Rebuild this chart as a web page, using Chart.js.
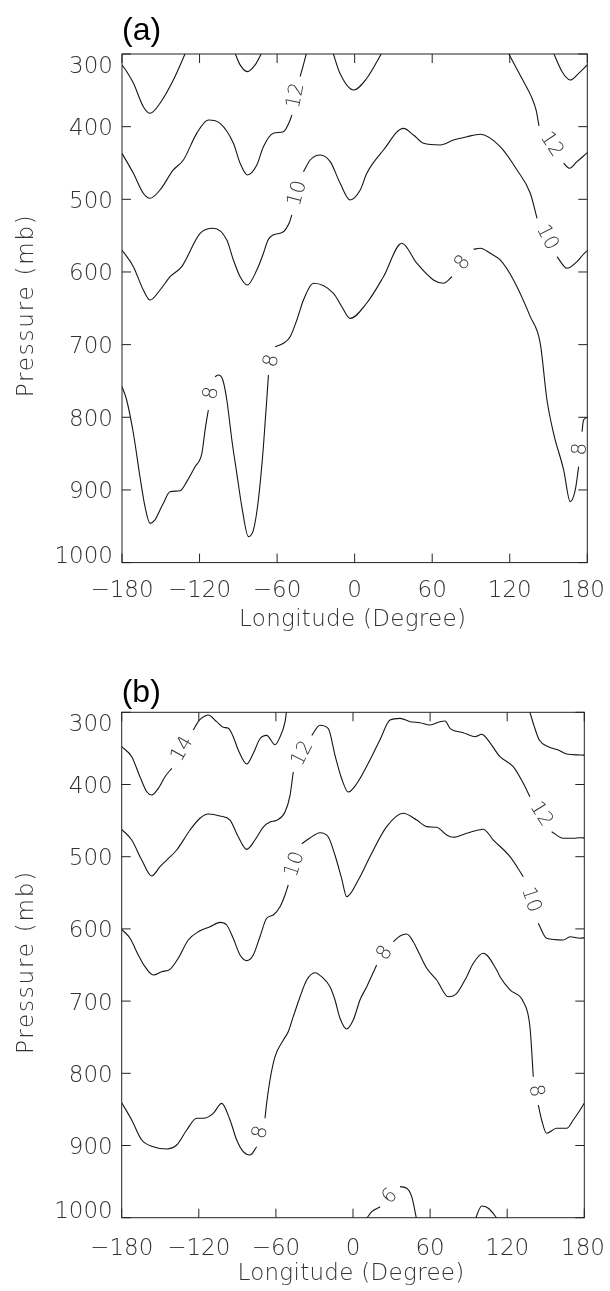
<!DOCTYPE html>
<html>
<head>
<meta charset="utf-8">
<script src="https://cdn.jsdelivr.net/npm/chart.js@4.4.1/dist/chart.umd.min.js"></script>
<style>
  html, body { margin: 0; padding: 0; background: #fff; }
  canvas { display: block; }
</style>
</head>
<body>
<canvas id="chart_a" width="610" height="645"></canvas>
<canvas id="chart_b" width="610" height="646"></canvas>
<script>
// axis ticks
const lonTicks = [-180, -120, -60, 0, 60, 120, 180];
const lonTickLabels = ['\u2212180', '\u2212120', '\u221260', '0', '60', '120', '180'];
const presTicks = [300, 400, 500, 600, 700, 800, 900, 1000];
const presTickLabels = ['300', '400', '500', '600', '700', '800', '900', '1000'];

// contours: longitude (degree) / pressure (mb); null = gap where the contour label sits
// panel (a)
const a14Lon = [-180, -176.4, -171.2, -163.5, -158.3, -150.6, -140.3, -130.5, null,
  -93, -88.6, -83, -77, -71.5, null,
  -17, -11.4, -0.9, 9.4, 21.5, null,
  153.5, 160.4, 166.8, 173.3, 180.5];
const a14Pres = [315, 324, 340, 372.5, 381.6, 367.8, 335.8, 297, null,
  297, 315, 324.3, 315, 297, null,
  297, 326.6, 349.5, 333.4, 297, null,
  297, 324, 335.8, 326.6, 314];

const a12LeftLon = [-180, -171.2, -163.5, -158.3, -150.6, -140.3, -132.5, -122.2, -113.2, -104.1, -93.8, -88.6, -83, -75.7, -70.6, -62.9, -55.1, -49.9, -48.6, null,
  -42.2, -39.8, -37];
const a12LeftPres = [436.7, 464.2, 491.7, 498.6, 487.2, 459.6, 445.9, 409.2, 390.8, 395.4, 422.9, 450.4, 466.5, 452.8, 427.6, 409, 406.9, 390.8, 384, null,
  331, 316, 297];

const a12RightLon = [118.5, 123.1, 130.7, 136.5, 140.5, 142.6, null, 161.7, 166.3, 172, 177.1, 180.5];
const a12RightPres = [297, 312.8, 338, 358, 378, 399, null, 450.4, 457.3, 448.2, 440.4, 435];

const a10Lon = [-180, -171.2, -163.5, -158.3, -150.6, -142.8, -133.8, -119.6, -109.3, -98.9, -93.8, -88.6, -83, -75.7, -70.6, -67, -62.9, -55.1, -50.5, -48.6, null,
  -39.6, -34.4, -26.7, -18.9, -11.2, -3.5, 4.3, 9.4, 22.3, 37.8, 45.5, 53.3, 66.2, 76.5, 86.9, 97.2, 112.6, 125.6, 135.9, 141.1, null,
  156.5, 164.3, 172, 177.1, 180.5];
const a10Pres = [569.7, 592.7, 624.8, 638.6, 624.8, 606.5, 592.7, 546.8, 539.9, 556, 583.5, 606.5, 617.9, 597.3, 574.3, 556, 549, 544.6, 532, 521.6, null,
  462, 445.9, 439, 448.2, 478, 500.9, 487.2, 464.2, 432.1, 402.3, 411.5, 422.9, 425.2, 418.4, 413.8, 410.5, 427.6, 459.6, 491.7, 526.1, null,
  579, 594.9, 585.8, 575.3, 570];

const a8Lon = [-180, -176.4, -171.2, -166.1, -162.2, -158.3, -154.5, -150.6, -148, -142.9, -135.1, -129.9, -123.5, -118.3, -115.5, -113.2, null,
  -108, -105.4, -102, -98.9, -95, -91.2, -87.3, -82.2, -78.3, -74.5, -70.6, -66.7, null,
  -61.5, -55.1, -49.9, -44.7, -39.6, -31.9, -16.4, -9.9, -3.5, 9.4, 22.3, 36.5, 48.1, 61, 68.8, 75.3, null,
  92, 97.2, 104.9, 112.6, 122.9, 135.9, 143.6, 148.8, 153.9, 161.7, 166.8, 170.7, 173.3, null,
  175.9, 177.1, 180.5];
const a8Pres = [757.9, 776.2, 822, 881.8, 923, 946, 941.3, 927.6, 918.4, 902.4, 901, 888.6, 868, 850.5, 815, 790, null,
  744.1, 741.8, 748.7, 776.2, 831.2, 877.1, 923, 964.3, 955.1, 913.8, 840.5, 741.8, null,
  702.8, 698.2, 689.1, 666.1, 638.6, 615.6, 629.3, 647.8, 663.8, 642.7, 606.5, 560.5, 588, 611, 615.6, 606.5, null,
  568.8, 567.4, 574.3, 583.5, 611, 661.5, 698.2, 776.2, 822, 872.5, 916.2, 900, 868, null,
  819.8, 803.7, 800];

// panel (b)
const b14LeftLon = [-180, -172.2, -165.8, -160.5, -156.7, -151.5, -146.3, -141.1, null,
  -124.3, -119.6, -115.2, -112.6, -106.1, -100.9, -97, -93.2, -89.3, -82.7, -77.6, -72.4, -67.2, -60.7, -56.8, -52.9, -51.6];
const b14LeftPres = [347.6, 361.5, 389.2, 410, 414.5, 405.3, 389.2, 377.6, null,
  324.5, 310.7, 305.1, 303.7, 313, 320.8, 322.2, 333.8, 352.2, 371.6, 356.8, 336.6, 331.9, 344.9, 334.2, 313.4, 297];

const b14RightLon = [137.2, 141.1, 145, 152, 159.8, 166.3, 176.7, 180.5];
const b14RightPres = [297, 319.9, 338.4, 347.6, 352.2, 357.8, 359.1, 359.5];

const b12Lon = [-180, -172.2, -164.4, -156.7, -150.2, -145, -137.2, -126.8, -119.1, -112.6, -103.5, -95.7, -89.3, -82.7, -76.3, -69.8, -64.6, -59.4, -52.9, -49, -46.5, null,
  -32.1, -25.7, -19.2, -14, -8.8, -3.7, 2.9, 13.2, 21, 28.8, 36.6, 44.4, 52.1, 59.9, 67.7, 71.6, 75.5, 85.8, 95, 100.2, 104, 114.4, 124.7, 132.5, 137.7, null,
  154.6, 163.7, 171.4, 176.7, 180.5];
const b12Pres = [462, 476.9, 504.6, 526.7, 513.9, 504.6, 490.7, 463, 446.8, 440.9, 443.6, 449.2, 472.3, 489.8, 476.9, 458.9, 451.9, 449.6, 438, 415, 382.7, null,
  331.9, 318, 322.7, 359.6, 392, 410.4, 398.9, 366, 338, 310.7, 308.4, 313, 314.4, 317.6, 313, 312, 322.2, 328.3, 333.8, 330.5, 336, 361.5, 375.3, 398.3, 416.9, null,
  465.4, 474.5, 474.5, 473.7, 474];

const b10Lon = [-180, -173.5, -167.1, -161.9, -155.4, -148.9, -142.4, -136, -128.2, -120.4, -111.3, -103.5, -98.3, -93.2, -87.9, -82.7, -77.6, -72.4, -67.2, -62, -56.8, -52.9, -50.4, null,
  -39.9, -33.5, -25.7, -19.2, -14, -8.8, -4.9, 4.1, 13.2, 26.2, 39.1, 49.6, 57.4, 65.1, 72.9, 78, 88.5, 101.4, 109.2, 122.2, 132.5, null,
  144.2, 150.7, 163.7, 168.9, 176.7, 180.5];
const b10Pres = [600.6, 613, 636.1, 652.3, 663.8, 659.3, 656, 640.7, 615.4, 603.9, 597, 590.9, 594.6, 613, 636.1, 644, 636.1, 610.8, 585.3, 580.7, 569.3, 553, 539.2, null,
  482, 474.1, 466.8, 472.7, 498, 530.5, 555.4, 532.3, 500, 458.4, 439.9, 449.2, 458.4, 459.3, 470, 473.1, 467.6, 462, 476.9, 500, 527.7, null,
  592.2, 613, 615.4, 610.8, 613, 612];

const b8Lon = [-180, -172.2, -164.4, -155.4, -145, -137.2, -129.4, -121.6, -116.5, -108.7, -102.2, -95.7, -90.5, -85.4, -80.2, -74.9, null,
  -68.5, -67.2, -64.6, -60.7, -54.2, -50.4, -46.5, -41.2, -36, -29.6, -23.1, -17.9, -14, -10.1, -4.9, 0.2, 2.9, 5.4, 10.7, 18.4, null,
  31.4, 36.6, 41.8, 46.9, 52.1, 57.4, 65.1, 74.2, 80.7, 88.5, 93.6, 101.4, 111.8, 114.4, 122.2, 132.5, 137.7, 140.3, null,
  144.2, 146.8, 150.7, 158.5, 166.3, 171.4, 176.7, 180.5];
const b8Pres = [840.7, 864.7, 892.4, 901.7, 904.8, 899.3, 878.5, 862.3, 862.3, 855.4, 841.6, 864.7, 892.4, 908.6, 913.2, 901.7, null,
  862.3, 841.6, 809.3, 777, 753.9, 742.4, 721.6, 693.9, 670.8, 660.7, 668.4, 680, 698.5, 723.8, 738.6, 726.2, 712.3, 698.5, 680, 650, null,
  617.7, 609.8, 607.1, 617.7, 636.3, 654.6, 670.8, 693.9, 689.2, 666.2, 647.6, 633.8, 656.9, 666.2, 684.6, 700.8, 735.5, 804.7, null,
  843.9, 864.7, 883.1, 876.2, 876.2, 864.7, 850.8, 840];

const b6Lon = [9.8, 14.6, 21.1, null, 36.6, 41.8, 45.7, 49.6];
const b6Pres = [1003, 991.7, 984.8, null, 957, 959.3, 970.9, 1003];

const b6EastLon = [94.9, 100.2, 105.3, 113.1];
const b6EastPres = [1003, 983.8, 987, 1003];

const thinFamily = '"DejaVu Sans ExtraLight", "DejaVu Sans Light", "DejaVu Sans"';
const tickFont = '200 23px ' + thinFamily;
const inkColor = '#333';

function splitSegments(lons, pres) {
  const segs = [[]];
  lons.forEach((lon, i) => {
    if (lon === null) {
      segs.push([]);
      return;
    }
    segs[segs.length - 1].push({x: lon, y: pres[i]});
  });
  return segs;
}

const framePlugin = {
  id: 'frame',
  afterDatasetsDraw(chart, args, opts) {
    const {ctx, chartArea: area, scales: {x, y}} = chart;
    ctx.save();

    // box + inward ticks on all four sides
    ctx.strokeStyle = '#222';
    ctx.lineWidth = 1;
    ctx.strokeRect(area.left, area.top, area.right - area.left, area.bottom - area.top);
    ctx.beginPath();
    lonTicks.forEach(v => {
      const px = x.getPixelForValue(v);
      ctx.moveTo(px, area.bottom);
      ctx.lineTo(px, area.bottom - 9);
      ctx.moveTo(px, area.top);
      ctx.lineTo(px, area.top + 9);
    });
    presTicks.forEach(v => {
      const py = y.getPixelForValue(v);
      ctx.moveTo(area.left, py);
      ctx.lineTo(area.left + 9, py);
      ctx.moveTo(area.right, py);
      ctx.lineTo(area.right - 9, py);
    });
    ctx.stroke();

    ctx.fillStyle = inkColor;
    ctx.font = tickFont;
    ctx.textBaseline = 'alphabetic';

    // pressure labels, kept inside the box at the ends
    const dh = 16.8;
    ctx.textAlign = 'right';
    presTicks.forEach((v, i) => {
      let base = y.getPixelForValue(v) + dh / 2;
      base = Math.max(base, area.top + 2 + dh);
      base = Math.min(base, area.bottom + 0.5);
      ctx.fillText(presTickLabels[i], area.left - 9, base);
    });

    // longitude labels
    ctx.textAlign = 'center';
    lonTicks.forEach((v, i) => {
      const w = ctx.measureText(lonTickLabels[i]).width;
      const cx = Math.min(x.getPixelForValue(v), chart.width - 5 - w / 2);
      ctx.fillText(lonTickLabels[i], cx, opts.xLabelBase);
    });

    // axis titles
    ctx.letterSpacing = '0.3px';
    ctx.fillText('Longitude (Degree)', (area.left + area.right) / 2 - 2, opts.xTitleBase);
    ctx.save();
    ctx.letterSpacing = '1.8px';
    ctx.translate(33, (area.top + area.bottom) / 2 - 3);
    ctx.rotate(-Math.PI / 2);
    ctx.fillText('Pressure (mb)', 0, 0);
    ctx.restore();
    ctx.letterSpacing = '0px';

    // panel letter
    ctx.fillStyle = '#000';
    ctx.font = '32px "Liberation Sans", Arial, sans-serif';
    ctx.textAlign = 'left';
    ctx.fillText(opts.title, area.left, opts.titleBase);

    // contour labels, centred in the gaps of each contour
    ctx.fillStyle = inkColor;
    ctx.font = '200 20px ' + thinFamily;
    ctx.textAlign = 'center';
    ctx.textBaseline = 'middle';
    opts.gaps.forEach(g => {
      const x0 = x.getPixelForValue(g.from.x), y0 = y.getPixelForValue(g.from.y);
      const x1 = x.getPixelForValue(g.to.x), y1 = y.getPixelForValue(g.to.y);
      let ang = Math.atan2(y1 - y0, x1 - x0);
      if (ang > Math.PI / 2) ang -= Math.PI;
      if (ang < -Math.PI / 2) ang += Math.PI;
      ctx.save();
      ctx.translate((x0 + x1) / 2, (y0 + y1) / 2);
      ctx.rotate(ang);
      ctx.fillText(g.text, 0, 0);
      ctx.restore();
    });

    ctx.restore();
  }
};

function buildPanel(canvasId, contours, pad, frameOpts) {
  const datasets = [];
  const gaps = [];
  contours.forEach(c => {
    const segs = splitSegments(c.lon, c.pres);
    segs.forEach(s => datasets.push({data: s}));
    if (c.label) {
      for (let i = 0; i < segs.length - 1; i++) {
        gaps.push({text: c.label, from: segs[i][segs[i].length - 1], to: segs[i + 1][0]});
      }
    }
  });

  return new Chart(document.getElementById(canvasId), {
    type: 'line',
    data: {datasets: datasets},
    options: {
      responsive: false,
      animation: false,
      devicePixelRatio: 1,
      layout: {padding: pad},
      elements: {
        point: {radius: 0, hoverRadius: 0},
        line: {
          borderColor: '#151515',
          borderWidth: 1.1,
          cubicInterpolationMode: 'monotone',
          fill: false
        }
      },
      scales: {
        x: {type: 'linear', min: -180, max: 180, display: false},
        y: {type: 'linear', min: 300, max: 1000, reverse: true, display: false}
      },
      plugins: {
        legend: {display: false},
        tooltip: {enabled: false},
        frame: Object.assign({gaps: gaps}, frameOpts)
      }
    },
    plugins: [framePlugin]
  });
}

buildPanel('chart_a', [
  {lon: a14Lon, pres: a14Pres, label: null},
  {lon: a12LeftLon, pres: a12LeftPres, label: '12'},
  {lon: a12RightLon, pres: a12RightPres, label: '12'},
  {lon: a10Lon, pres: a10Pres, label: '10'},
  {lon: a8Lon, pres: a8Pres, label: '8'}
], {left: 122, top: 54, right: 22.7, bottom: 82.4},
  {title: '(a)', titleBase: 40, xLabelBase: 597, xTitleBase: 626});

buildPanel('chart_b', [
  {lon: b14LeftLon, pres: b14LeftPres, label: '14'},
  {lon: b14RightLon, pres: b14RightPres, label: '14'},
  {lon: b12Lon, pres: b12Pres, label: '12'},
  {lon: b10Lon, pres: b10Pres, label: '10'},
  {lon: b8Lon, pres: b8Pres, label: '8'},
  {lon: b6Lon, pres: b6Pres, label: '6'},
  {lon: b6EastLon, pres: b6EastPres, label: null}
], {left: 121.7, top: 67.3, right: 25.7, bottom: 73.3},
  {title: '(b)', titleBase: 57, xLabelBase: 610, xTitleBase: 635});
</script>
</body>
</html>
